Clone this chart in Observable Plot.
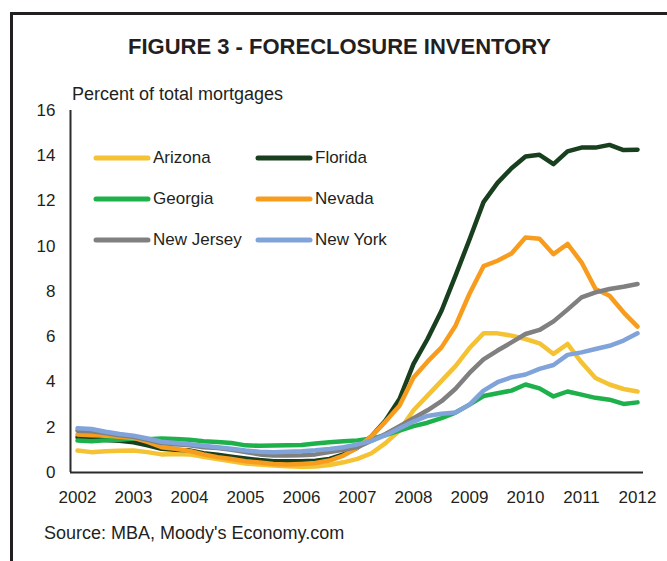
<!DOCTYPE html>
<html>
<head>
<meta charset="utf-8">
<script src="https://cdn.jsdelivr.net/npm/d3@7"></script>
<script src="https://cdn.jsdelivr.net/npm/@observablehq/plot@0.6"></script>
<style>
  body { margin: 0; background: #fff; }
  #wrap { position: relative; width: 667px; height: 561px; overflow: hidden; background: #fff;
          font-family: "Liberation Sans", Arial, sans-serif; color: #231f20; }
  #frame { position: absolute; left: 10px; top: 12px; width: 720px; height: 620px;
           border-left: 3px solid #231f20; border-top: 3px solid #231f20; }
  #title { position: absolute; left: 12px; width: 655px; top: 34px; text-align: center;
           font-weight: bold; font-size: 22px; line-height: 26px; }
  #ylab { position: absolute; left: 72px; top: 84px; font-size: 18px; line-height: 20px; }
  #chart { position: absolute; left: 0; top: 100px; }
  #legend { position: absolute; left: 93px; top: 147px; display: grid;
            grid-template-columns: 162px 160px; row-gap: 20px; font-size: 17px; }
  .item { display: flex; align-items: center; height: 21px; white-space: nowrap; }
  .item svg { margin-right: 2px; }
  #source { position: absolute; left: 44px; top: 523px; font-size: 18px; line-height: 20px; }
</style>
</head>
<body>
<div id="wrap">
  <div id="frame"></div>
  <div id="title">FIGURE 3 - FORECLOSURE INVENTORY</div>
  <div id="ylab">Percent of total mortgages</div>
  <div id="chart"></div>
  <div id="legend"></div>
  <div id="source">Source: MBA, Moody's Economy.com</div>
</div>
<script>
// Quarterly observations, 2002 Q1 through 2012 Q1
const startYear = 2002;
const yearTicks = [2002, 2003, 2004, 2005, 2006, 2007, 2008, 2009, 2010, 2011, 2012];
const yTicks = [0, 2, 4, 6, 8, 10, 12, 14, 16];
const seriesNames = ["Arizona", "Florida", "Georgia", "Nevada", "New Jersey", "New York"];
const seriesColors = ["#F4C232", "#183F1E", "#1EB14B", "#F89C1E", "#808080", "#80A3D9"];

const arizona = [0.97,0.90,0.94,0.96,0.97,0.90,0.80,0.82,0.80,0.70,0.60,0.50,0.40,0.35,0.31,0.28,0.25,0.27,0.33,0.45,0.60,0.85,1.30,1.85,2.75,3.40,4.05,4.70,5.50,6.15,6.15,6.05,5.90,5.71,5.24,5.68,4.87,4.18,3.89,3.69,3.58];
const florida = [1.56,1.50,1.44,1.40,1.34,1.20,1.05,1.00,0.98,0.85,0.78,0.70,0.62,0.55,0.50,0.50,0.50,0.52,0.60,0.80,1.10,1.60,2.30,3.25,4.80,5.90,7.15,8.70,10.30,11.95,12.80,13.45,13.97,14.04,13.63,14.19,14.36,14.36,14.48,14.25,14.27];
const georgia = [1.41,1.38,1.42,1.45,1.50,1.47,1.50,1.48,1.45,1.38,1.35,1.30,1.20,1.18,1.19,1.20,1.22,1.28,1.34,1.38,1.42,1.50,1.65,1.85,2.05,2.20,2.40,2.65,3.00,3.38,3.50,3.62,3.89,3.72,3.36,3.58,3.44,3.30,3.22,3.03,3.10];
const nevada = [1.68,1.65,1.63,1.58,1.53,1.35,1.12,1.05,0.95,0.80,0.68,0.60,0.50,0.44,0.38,0.35,0.38,0.42,0.53,0.75,1.10,1.60,2.25,2.95,4.20,4.90,5.53,6.49,7.90,9.12,9.36,9.68,10.39,10.33,9.65,10.10,9.29,8.11,7.81,7.08,6.45];
const newJersey = [1.85,1.82,1.75,1.65,1.58,1.45,1.30,1.25,1.20,1.12,1.08,1.00,0.90,0.80,0.75,0.75,0.76,0.80,0.90,1.00,1.12,1.40,1.70,2.05,2.40,2.75,3.15,3.70,4.40,5.00,5.39,5.75,6.12,6.30,6.68,7.20,7.74,7.96,8.11,8.21,8.33];
const newYork = [1.96,1.92,1.80,1.70,1.63,1.50,1.36,1.30,1.25,1.18,1.12,1.05,0.97,0.92,0.90,0.92,0.94,0.98,1.04,1.12,1.24,1.40,1.65,1.95,2.25,2.50,2.60,2.65,3.00,3.62,3.99,4.21,4.33,4.58,4.75,5.20,5.31,5.46,5.60,5.83,6.15];

const seriesValues = [arizona, florida, georgia, nevada, newJersey, newYork];

const rows = [];
seriesNames.forEach((name, s) => {
  seriesValues[s].forEach((v, i) => rows.push({state: name, t: startYear + i / 4, value: v}));
});

const xMin = 2001.875, xMax = 2012.107;
const axisColor = "#2b2b2b";

const chart = Plot.plot({
  width: 667,
  height: 420,
  marginLeft: 70,
  marginRight: 24,
  marginTop: 10,
  marginBottom: 48,
  style: {fontFamily: "'Liberation Sans', Arial, sans-serif", fontSize: "17px", color: "#231f20", background: "transparent"},
  x: {domain: [xMin, xMax]},
  y: {domain: [0, 16]},
  color: {domain: seriesNames, range: seriesColors},
  marks: [
    Plot.axisY({ticks: yTicks, tickSize: 0, tickPadding: 15, label: null, fontSize: 17}),
    Plot.axisX({ticks: yearTicks, tickSize: 0, tickPadding: 18, tickFormat: d => String(d), label: null, fontSize: 17}),
    Plot.line(rows, {x: "t", y: "value", z: "state", stroke: "state", strokeWidth: 4.5,
                     strokeLinejoin: "round", strokeLinecap: "round"}),
    Plot.ruleX([xMin], {y1: 0, y2: 16, stroke: axisColor, strokeWidth: 2}),
    Plot.ruleY([0], {x1: xMin, x2: xMax, stroke: axisColor, strokeWidth: 2})
  ]
});
document.getElementById("chart").appendChild(chart);

const legend = document.getElementById("legend");
seriesNames.forEach((name, s) => {
  const item = document.createElement("div");
  item.className = "item";
  item.innerHTML = `<svg width="58" height="8"><line x1="3" y1="4" x2="55" y2="4" stroke="${seriesColors[s]}" stroke-width="5" stroke-linecap="round"/></svg><span>${name}</span>`;
  legend.appendChild(item);
});
</script>
</body>
</html>
